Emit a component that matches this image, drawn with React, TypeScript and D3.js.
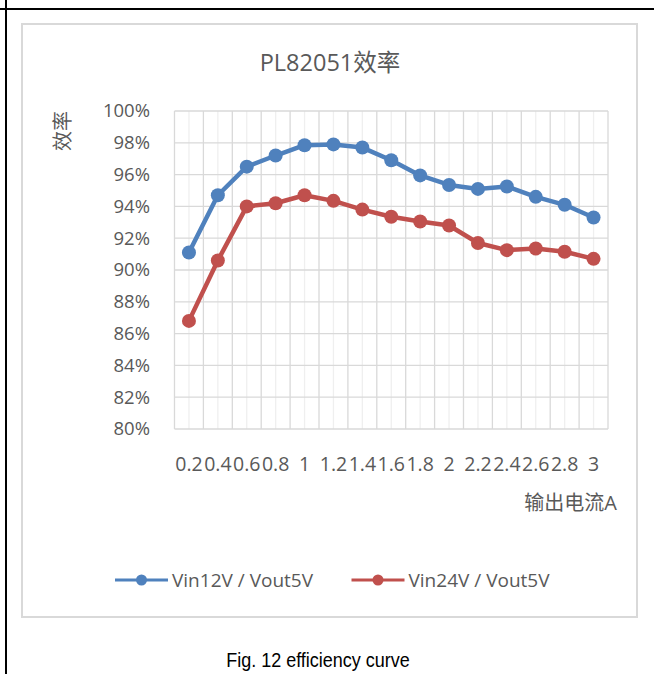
import React from "react";
import * as d3 from "d3";

const categories = ["0.2","0.4","0.6","0.8","1","1.2","1.4","1.6","1.8","2","2.2","2.4","2.6","2.8","3"];
const vin12 = [91.1, 94.7, 96.5, 97.2, 97.85, 97.9, 97.7, 96.9, 95.95, 95.35, 95.1, 95.25, 94.6, 94.1, 93.3];
const vin24 = [86.8, 90.6, 94.0, 94.2, 94.7, 94.35, 93.8, 93.35, 93.05, 92.8, 91.7, 91.25, 91.35, 91.15, 90.7];
const yTicks = [80, 82, 84, 86, 88, 90, 92, 94, 96, 98, 100];
const seriesNames = ["Vin12V / Vout5V", "Vin24V / Vout5V"];
const seriesColors = ["#4f81bd", "#c0504d"];

const W = 654, H = 674;
const plot = { left: 174.5, right: 608, top: 111, bottom: 429 };
const TXT = "#595959";
const FONT = "'Open Sans', 'Noto Sans CJK SC', sans-serif";

export default function App() {
  const x = d3.scaleBand<string>().domain(categories).range([plot.left, plot.right]).padding(0);
  const cx = (c: string) => (x(c) as number) + x.bandwidth() / 2;
  const y = d3.scaleLinear().domain([80, 100]).range([plot.bottom, plot.top]);
  const line = d3.line<number>().x((_, i) => cx(categories[i])).y((d) => y(d));
  const series = [vin12, vin24];

  const boundaries = categories.map((c) => x(c) as number).concat([plot.right]);

  return (
    <svg width={W} height={H} style={{ position: "absolute", left: 0, top: 0, background: "#fff" }}>
      {/* page borders */}
      <line x1={6} y1={0} x2={6} y2={H} stroke="#000" strokeWidth={2} />
      <line x1={0} y1={9} x2={W} y2={9} stroke="#000" strokeWidth={2} />
      {/* chart frame */}
      <rect x={22} y={24} width={615} height={593} fill="#fff" stroke="#d9d9d9" strokeWidth={2} />

      {/* title */}
      <text x={330} y={71} textAnchor="middle" fontFamily={FONT} fontSize={23.5} fill={TXT}>PL82051效率</text>

      {/* minor vertical gridlines */}
      {categories.map((c) => (
        <line key={"mv" + c} x1={cx(c)} x2={cx(c)} y1={plot.top} y2={plot.bottom} stroke="#efefef" strokeWidth={1.3} />
      ))}
      {/* major vertical gridlines */}
      {boundaries.map((b, i) => (
        <line key={"v" + i} x1={b} x2={b} y1={plot.top} y2={plot.bottom} stroke="#d9d9d9" strokeWidth={1.3} />
      ))}
      {/* horizontal gridlines */}
      {yTicks.map((t) => (
        <line key={"h" + t} x1={plot.left} x2={plot.right} y1={y(t)} y2={y(t)} stroke="#d9d9d9" strokeWidth={1.3} />
      ))}

      {/* y tick labels */}
      {yTicks.map((t) => (
        <text key={"yt" + t} x={150} y={y(t)} dy="0.35em" textAnchor="end" fontFamily={FONT} fontSize={18.5} fill={TXT}>{t}%</text>
      ))}
      {/* x tick labels */}
      {categories.map((c) => (
        <text key={"xt" + c} x={cx(c)} y={471} textAnchor="middle" fontFamily={FONT} fontSize={19.5} fill={TXT}>{c}</text>
      ))}

      {/* axis titles */}
      <text transform="translate(70,131) rotate(-90)" textAnchor="middle" fontFamily={FONT} fontSize={20} fill={TXT}>效率</text>
      <text x={617} y={510} textAnchor="end" fontFamily={FONT} fontSize={20} fill={TXT}>输出电流A</text>

      {/* series */}
      {series.map((s, si) => (
        <g key={"s" + si}>
          <path d={line(s) as string} fill="none" stroke={seriesColors[si]} strokeWidth={4.5} strokeLinejoin="round" />
          {s.map((v, i) => (
            <circle key={i} cx={cx(categories[i])} cy={y(v)} r={7} fill={seriesColors[si]} />
          ))}
        </g>
      ))}

      {/* legend */}
      {seriesNames.map((n, i) => {
        const lx = i === 0 ? 115 : 351.5;
        return (
          <g key={"lg" + i}>
            <line x1={lx} x2={lx + 53} y1={580} y2={580} stroke={seriesColors[i]} strokeWidth={3} />
            <circle cx={lx + 26.5} cy={580} r={5.5} fill={seriesColors[i]} />
            <text x={lx + 57} y={580} dy="0.35em" fontFamily={FONT} fontSize={19} fill={TXT}>{n}</text>
          </g>
        );
      })}

      {/* caption */}
      <text transform="translate(318,667) scale(0.9,1)" textAnchor="middle" fontFamily="'Liberation Sans', Arial, sans-serif" fontSize={20} fill="#000">Fig. 12 efficiency curve</text>
    </svg>
  );
}
